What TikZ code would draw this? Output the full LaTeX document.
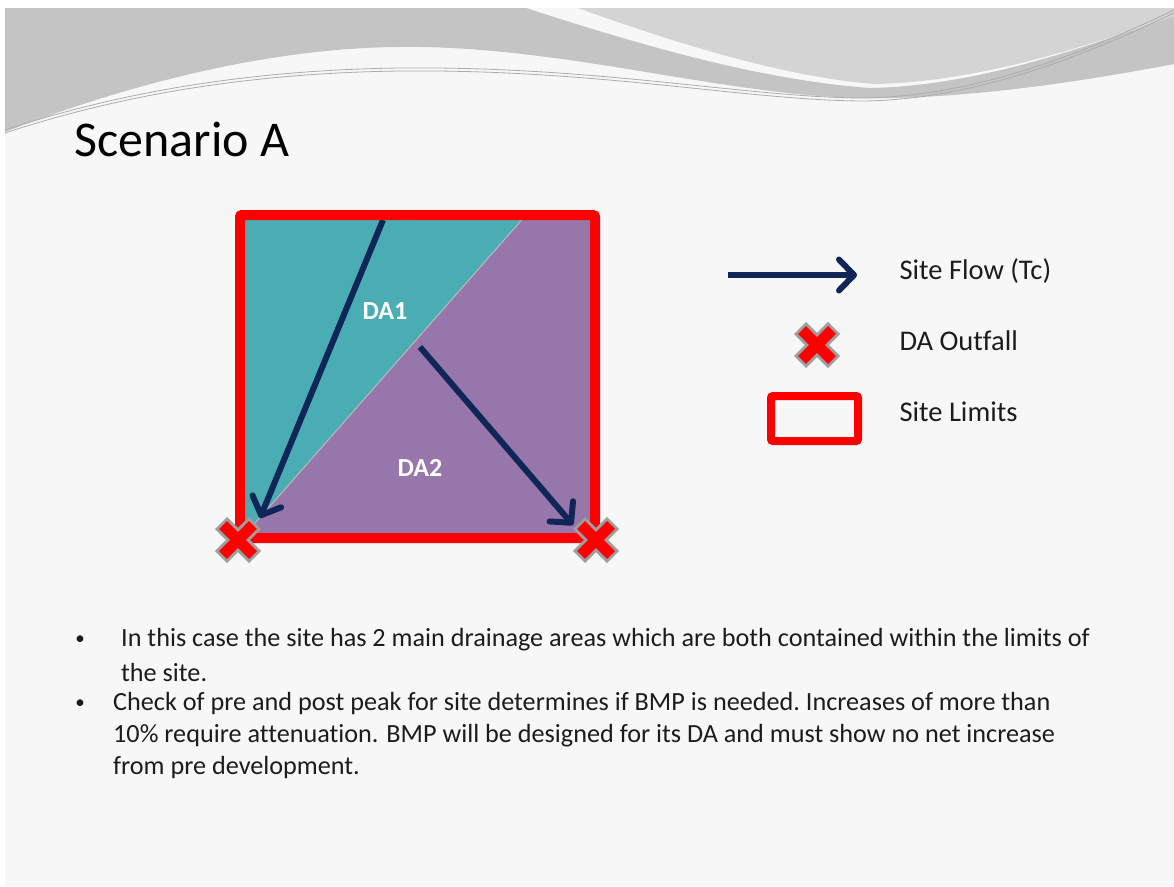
\documentclass[tikz,border=0pt]{standalone}
\usepackage{fontspec}
\setmainfont[Ligatures=NoCommon]{Carlito}
\usetikzlibrary{arrows.meta}

\definecolor{tealarea}{HTML}{4BADB4}
\definecolor{purparea}{HTML}{9776AB}
\definecolor{flownavy}{HTML}{102657}
\definecolor{wavedark}{HTML}{C4C4C4}
\definecolor{wavelight}{HTML}{D4D4D4}
\definecolor{slidebg}{HTML}{F7F7F7}
\definecolor{bodytxt}{HTML}{1C1C1C}

\tikzset{
  flow/.style={flownavy, line width=6pt, line join=round,
    -{Straight Barb[length=15pt,width=31pt,round]}},
  limits/.style={red, line width=10pt, rounded corners=2pt},
  areatxt/.style={text=white, font=\bfseries\fontsize{26}{30}\selectfont},
  legtxt/.style={anchor=west, text=bodytxt, font=\fontsize{28.5}{34}\selectfont},
  bullettxt/.style={anchor=west, text=bodytxt, inner sep=0pt, font=\fontsize{26.2}{32}\selectfont},
  bulletdot/.style={text=bodytxt, inner sep=0pt, font=\fontsize{19}{22}\selectfont},
  outfall/.pic={
    \draw[gray!75, line width=17pt] (-17,-17) -- (17,17) (-17,17) -- (17,-17);
    \draw[red, line width=11pt] (-15,-15) -- (15,15) (-15,15) -- (15,-15);
  }
}

\begin{document}
\begin{tikzpicture}[x=1pt,y=-1pt]
  \useasboundingbox (0,0) rectangle (1174,886);
  \fill[white] (0,0) rectangle (1174,886);
  \fill[slidebg] (5,8) rectangle (1174,886);

  % header waves
  \fill[wavedark] (5,8) -- (526,8) .. controls (640,45) and (760,80) .. (870,88)
    .. controls (980,86) and (1090,45) .. (1174,16) -- (1174,64)
    .. controls (1080,82) and (960,100) .. (860,98)
    .. controls (720,95) and (560,45) .. (400,47)
    .. controls (250,48) and (100,95) .. (5,132) -- cycle;
  \fill[wavelight] (578,8) -- (1174,8) -- (1174,16)
    .. controls (1090,45) and (980,82) .. (875,84)
    .. controls (790,78) and (680,45) .. (578,8) -- cycle;
  \foreach \d in {0,3} {
    \draw[gray!65, line width=0.8pt] (5,130+\d) .. controls (120,92+\d) and (250,70+\d) .. (400,68+\d)
      .. controls (600,66+\d) and (750,98+\d) .. (865,98+\d)
      .. controls (980,96+\d) and (1090,50+\d) .. (1174,10+\d);
  }

  \node[anchor=west, text=black, font=\fontsize{50}{58}\selectfont] (title) at (71,139) {Scenario A};

  % drainage areas
  \fill[tealarea] (240,215) rectangle (595,538);
  \fill[purparea] (526,215) -- (595,215) -- (595,538) -- (242,538) -- cycle;
  \draw[gray!55, line width=1pt] (242,538) -- (526,215);
  \node[areatxt] (da1) at (385,311) {DA1};
  \node[areatxt] (da2) at (420,468) {DA2};

  \coordinate (s1) at (383,220);
  \coordinate (e1) at (260,518);
  \coordinate (s2) at (420,347);
  \coordinate (e2) at (573,525);
  \draw[flow] (s1) -- (e1);
  \draw[flow] (s2) -- (e2);

  \draw[limits] (240,215) rectangle (595,538);
  \pic (out1) at (238,540) {outfall};
  \pic (out2) at (596,540) {outfall};

  % legend
  \coordinate (la) at (728,275);
  \coordinate (lb) at (857,275);
  \draw[flow] (la) -- (lb);
  \pic (legx) at (817,345) {outfall};
  \draw[limits, line width=8pt] (771,396) rectangle (858,441);
  \node[legtxt] (lflow) at (896,271) {Site Flow (Tc)};
  \node[legtxt] (lout) at (896,341) {DA Outfall};
  \node[legtxt] (llim) at (896,412) {Site Limits};

  % bullets
  \node[bulletdot] (b1) at (80,640) {•};
  \node[bullettxt] (t1a) at (121,640) {In this case the site has 2 main drainage areas which are both contained within the limits of};
  \node[bullettxt] (t1b) at (121,672) {the site.};
  \node[bulletdot] (b2) at (80,704) {•};
  \node[bullettxt] (t2a) at (113,704) {Check of pre and post peak for site determines\ if BMP is needed.\ Increases\ of more than};
  \node[bullettxt] (t2b) at (113,736) {10\% require attenuation. BMP will be designed for its DA and must show no net increase};
  \node[bullettxt] (t2c) at (113,768) {from pre development.};
\end{tikzpicture}
\end{document}
